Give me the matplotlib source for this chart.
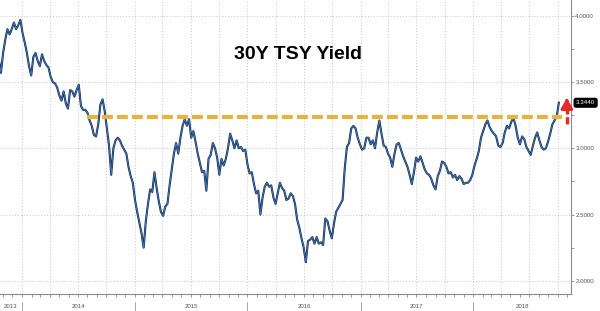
import matplotlib
matplotlib.use("Agg")
import matplotlib.pyplot as plt
import matplotlib.dates as mdates
import matplotlib.ticker as mticker
import matplotlib.transforms as mtransforms
import pandas as pd

# weekly (Friday) 30Y treasury yield
yields_30y = [
    3.67, 3.57, 3.72, 3.82, 3.90, 3.86, 3.90, 3.95, 3.90, 3.93,
    3.97, 3.87, 3.80, 3.72, 3.62, 3.55, 3.69, 3.72, 3.66, 3.62,
    3.71, 3.66, 3.63, 3.61, 3.54, 3.50, 3.49, 3.46, 3.40, 3.36,
    3.43, 3.34, 3.30, 3.44, 3.43, 3.39, 3.44, 3.48, 3.32, 3.29,
    3.29, 3.27, 3.21, 3.17, 3.10, 3.09, 3.18, 3.33, 3.37, 3.28,
    3.15, 3.02, 2.80, 3.00, 3.06, 3.08, 3.06, 3.02, 2.99, 2.96,
    2.86, 2.79, 2.74, 2.61, 2.52, 2.44, 2.36, 2.25, 2.45, 2.58,
    2.69, 2.67, 2.82, 2.70, 2.60, 2.52, 2.49, 2.56, 2.58, 2.72,
    2.84, 2.96, 3.04, 2.96, 3.08, 3.17, 3.22, 3.17, 3.22, 3.08,
    3.13, 3.05, 2.96, 2.89, 2.82, 2.83, 2.68, 2.92, 2.95, 3.04,
    3.00, 2.93, 2.80, 2.92, 2.87, 2.92, 3.00, 3.11, 3.06, 3.00,
    3.06, 3.00, 3.01, 2.98, 2.99, 2.88, 2.81, 2.82, 2.73, 2.66,
    2.68, 2.50, 2.63, 2.71, 2.74, 2.71, 2.72, 2.63, 2.58, 2.66,
    2.74, 2.70, 2.68, 2.61, 2.62, 2.66, 2.64, 2.58, 2.46, 2.40,
    2.32, 2.25, 2.14, 2.30, 2.31, 2.33, 2.28, 2.33, 2.28, 2.29,
    2.27, 2.47, 2.45, 2.38, 2.32, 2.43, 2.52, 2.55, 2.58, 2.61,
    2.85, 3.01, 3.04, 3.15, 3.17, 3.15, 3.08, 3.03, 2.99, 3.00,
    3.08, 3.08, 3.03, 3.06, 3.00, 3.12, 3.21, 3.11, 3.02, 3.01,
    2.96, 2.93, 2.86, 2.96, 3.03, 3.04, 2.99, 2.94, 2.90, 2.86,
    2.80, 2.73, 2.82, 2.93, 2.90, 2.94, 2.89, 2.84, 2.81, 2.80,
    2.77, 2.72, 2.69, 2.79, 2.83, 2.90, 2.89, 2.86, 2.81, 2.82,
    2.78, 2.80, 2.76, 2.79, 2.77, 2.73, 2.74, 2.74, 2.76, 2.80,
    2.87, 2.92, 2.98, 3.08, 3.13, 3.18, 3.21, 3.16, 3.13, 3.11,
    3.09, 3.02, 3.01, 3.04, 3.12, 3.17, 3.15, 3.20, 3.23, 3.17,
    3.08, 3.03, 3.09, 3.07, 3.01, 2.98, 2.95, 3.02, 3.08, 3.12,
    3.06, 3.01, 2.99, 3.00, 3.05, 3.11, 3.18, 3.21, 3.24, 3.344,
]
last_date = "2018-10-05"
last_value = 3.3440

# resistance line and breakout arrow
level = 3.24
level_from, level_to = "2014-08-01", "2018-10-15"
arrow_date = "2018-10-31"
arrow_from, arrow_to = 3.18, 3.40

x_from, x_to = "2013-10-22", "2018-11-14"
years = [2013, 2014, 2015, 2016, 2017, 2018]

dates = pd.date_range(end=last_date, periods=len(yields_30y), freq="W-FRI")

plt.rcParams["font.family"] = ["Liberation Sans", "DejaVu Sans"]

fig = plt.figure(figsize=(6.0, 3.11), dpi=100)
ax = fig.add_axes([0.0, 0.0547, 0.952, 0.9453])

ax.plot(dates, yields_30y, color="#17294a", lw=1.5, zorder=3)
ax.plot(dates, yields_30y, color="#3d7cc0", lw=0.6, zorder=4)

ax.plot(pd.to_datetime([level_from, level_to]), [level, level],
        color="#e6b43c", lw=3.0, dashes=(2.6, 1.0), zorder=5,
        solid_capstyle="butt")

ad = pd.to_datetime(arrow_date)
ax.plot([ad, ad], [arrow_from, arrow_to - 0.06], color="#e8282a", lw=2.4,
        dashes=(2.2, 0.8), zorder=6)
ax.annotate("", xy=(ad, arrow_to), xytext=(ad, arrow_to - 0.07),
            arrowprops=dict(arrowstyle="-|>,head_width=0.35,head_length=0.6",
                            color="#e8282a", lw=2.2), zorder=6)

ax.set_xlim(pd.to_datetime(x_from), pd.to_datetime(x_to))
ax.set_ylim(1.90, 4.12)

# axes styling
for side in ["top", "left"]:
    ax.spines[side].set_visible(False)
for side in ["right", "bottom"]:
    ax.spines[side].set_color("#8a8a8a")
    ax.spines[side].set_linewidth(0.8)

ax.yaxis.tick_right()
ax.yaxis.set_major_locator(mticker.MultipleLocator(0.5))
ax.yaxis.set_minor_locator(mticker.MultipleLocator(0.25))
ax.yaxis.set_major_formatter(mticker.FormatStrFormatter("%.4f"))
ax.tick_params(axis="y", which="both", length=2, width=0.6, color="#8a8a8a",
               labelsize=4.4, labelcolor="#555555", pad=1)

ax.xaxis.set_major_locator(mdates.MonthLocator(bymonth=[1, 4, 7, 10]))
ax.xaxis.set_minor_locator(mdates.MonthLocator())
ax.xaxis.set_major_formatter(mticker.NullFormatter())
ax.tick_params(axis="x", which="both", length=2, width=0.6, color="#8a8a8a")

ax.grid(True, which="major", color="#c4c4c4", lw=0.7, linestyle=(0, (1, 2)))

# year labels centred in the visible part of each year, with separators
blend = mtransforms.blended_transform_factory(ax.transData, ax.transAxes)
lo, hi = ax.get_xlim()
for yr in years:
    a = max(mdates.date2num(pd.Timestamp(f"{yr}-01-01")), lo)
    b = min(mdates.date2num(pd.Timestamp(f"{yr + 1}-01-01")), hi)
    ax.text((a + b) / 2, -0.043, str(yr), transform=blend, ha="center",
            va="center", fontsize=4.4, color="#555555")
    if yr > years[0]:
        ax.plot([a, a], [-0.027, -0.06], transform=blend, color="#9a9a9a",
                lw=0.6, clip_on=False)

ax.annotate(f"{last_value:.4f}", xy=(1.0, last_value),
            xycoords=("axes fraction", "data"), xytext=(3.5, 0),
            textcoords="offset points", ha="left", va="center",
            fontsize=4.4, color="white", annotation_clip=False,
            bbox=dict(boxstyle="round,pad=0.3", fc="black", ec="black"))

ax.text(0.522, 0.815, "30Y TSY Yield", transform=ax.transAxes, ha="center",
        va="center", fontsize=14, fontweight="bold", color="black")

fig.savefig("out.png", dpi=100)
